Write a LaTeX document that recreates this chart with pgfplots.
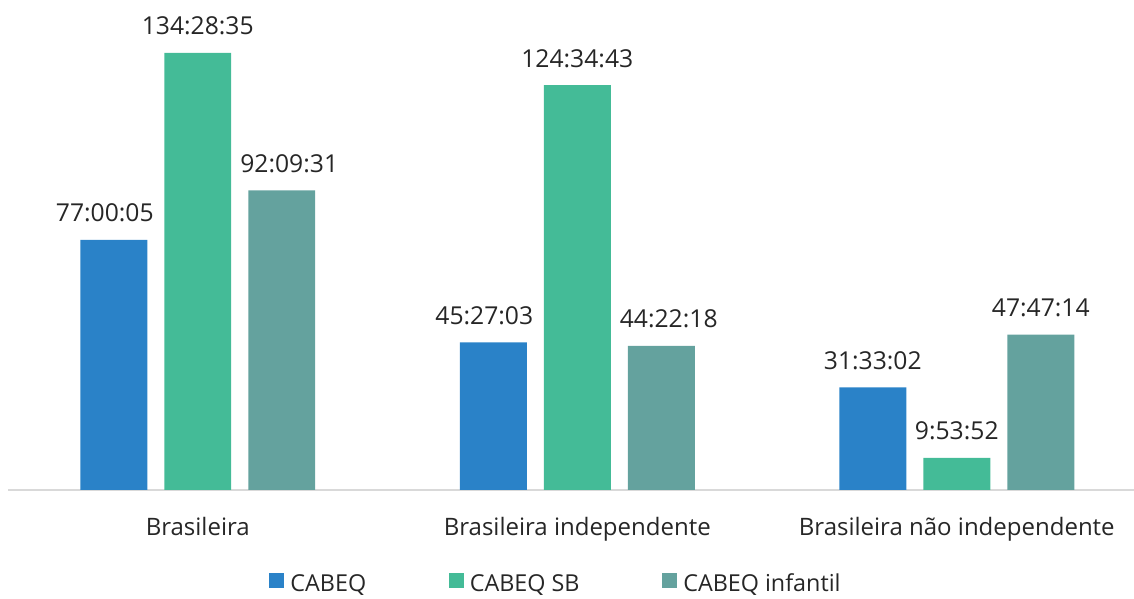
\documentclass[border=0pt]{standalone}
\usepackage{pgfplots}
\usepackage{pgfplotstable}
\pgfplotsset{compat=1.18}
\usepackage{fontspec}
\setmainfont{Open Sans}
\definecolor{cblue}{HTML}{2A82C8}
\definecolor{cgreen}{HTML}{44BB97}
\definecolor{cteal}{HTML}{64A29E}
\definecolor{axgray}{HTML}{D9D9D9}
\definecolor{txt}{HTML}{262626}
\newcommand{\lblfont}{\fontsize{18.5}{22}\selectfont}
\newcommand{\catfont}{\fontsize{18}{22}\selectfont}
\pgfplotstableread{
x y lbl dx
0 77.0014 77:00:05 -6.75
1 45.4508 45:27:03 -6.75
2 31.5506 31:33:02 0
}\cabeq
\pgfplotstableread{
x y lbl dx
0 134.4764 134:28:35 0
1 124.5786 124:34:43 0
2 9.8978 9:53:52 0
}\cabeqsb
\pgfplotstableread{
x y lbl dx
0 92.1586 92:09:31 5.6
1 44.3717 44:22:18 5.6
2 47.7872 47:47:14 0
}\cabeqinf
\begin{document}
\begin{tikzpicture}
\useasboundingbox (0,0) rectangle (850.5pt,449.25pt);
\begin{axis}[
  at={(6pt,81.75pt)}, anchor=south west,
  scale only axis, width=844.5pt, height=360pt,
  xmin=-0.5, xmax=2.467, ymin=0, ymax=147.7,
  axis x line=bottom, axis y line=none,
  axis line style={axgray, line width=1.1pt, -},
  xtick={0,1,2},
  xticklabels={Brasileira, Brasileira independente, Brasileira não independente},
  major tick length=0pt,
  ytick=\empty,
  xticklabel style={font=\catfont, text=txt, inner sep=0pt, anchor=north, yshift=-20pt},
  ybar, bar width=0.1765,
  nodes near coords, point meta=explicit symbolic,
  visualization depends on={\thisrow{dx} \as \dx},
  nodes near coords style={font=\lblfont, text=txt, inner sep=0pt, anchor=base, yshift=13.5pt, xshift=\dx pt},
  clip=false,
  legend columns=3,
  legend style={at={(0.4858,-0.195)}, anchor=center, draw=none, fill=none,
    font=\fontsize{17.5}{21}\selectfont, text=txt,
    nodes={inner sep=0pt},
    /tikz/every even column/.append style={column sep=62pt}},
  legend image code/.code={\fill[#1] (0pt,-3.5pt) rectangle (11.25pt,7.75pt); \path (15.75pt,0pt);},
]
\addplot[fill=cblue, draw=none, bar shift=-0.2213] table[x=x, y=y, meta=lbl] {\cabeq};
\addplot[fill=cgreen, draw=none, bar shift=0] table[x=x, y=y, meta=lbl] {\cabeqsb};
\addplot[fill=cteal, draw=none, bar shift=0.2213] table[x=x, y=y, meta=lbl] {\cabeqinf};
\legend{CABEQ, CABEQ SB, CABEQ infantil}
\end{axis}
\end{tikzpicture}
\end{document}
